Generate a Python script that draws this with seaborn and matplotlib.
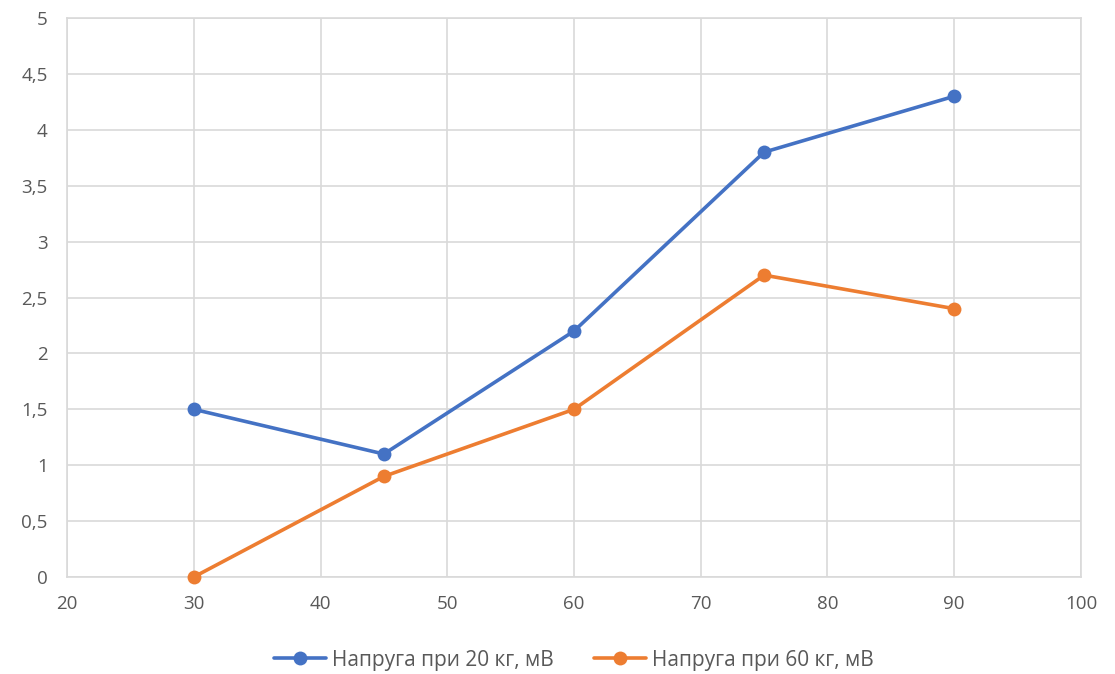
import matplotlib
matplotlib.use("Agg")
import matplotlib.pyplot as plt
import matplotlib.ticker as mticker
import seaborn as sns
import pandas as pd

mass = [30, 45, 60, 75, 90]
u20 = [1.5, 1.1, 2.2, 3.8, 4.3]
u60 = [0, 0.9, 1.5, 2.7, 2.4]
labels = ["Напруга при 20 кг, мВ", "Напруга при 60 кг, мВ"]
colors = ["#4472C4", "#ED7D31"]

df = pd.DataFrame({
    "x": mass * 2,
    "y": u20 + u60,
    "series": [labels[0]] * len(mass) + [labels[1]] * len(mass),
})

sns.set_style("white")
plt.rcParams["font.family"] = ["Open Sans", "DejaVu Sans"]

fig = plt.figure(figsize=(11.15, 6.74), dpi=100)
ax = fig.add_axes([0.0601, 0.1439, 0.9094, 0.8294])

sns.lineplot(data=df, x="x", y="y", hue="series", palette=colors,
             marker="o", markersize=10, markeredgewidth=0, linewidth=2.6,
             ax=ax, legend=True, clip_on=False, zorder=3)

ax.set_xlim(20, 100)
ax.set_ylim(0, 5)
ax.xaxis.set_major_locator(mticker.MultipleLocator(10))
ax.yaxis.set_major_locator(mticker.MultipleLocator(0.5))
ax.yaxis.set_major_formatter(mticker.FuncFormatter(
    lambda v, p: (f"{v:g}").replace(".", ",")))
ax.grid(True, color="#d9d9d9", linewidth=1.2)
for s in ax.spines.values():
    s.set_color("#d9d9d9")
    s.set_linewidth(1.2)
ax.tick_params(axis="both", length=0, labelsize=13.5, labelcolor="#595959")
ax.tick_params(axis="x", pad=13)
ax.tick_params(axis="y", pad=14)
ax.set_xlabel("")
ax.set_ylabel("")

handles, _ = ax.get_legend_handles_labels()
ax.legend(handles=handles, labels=labels, loc="center",
          bbox_to_anchor=(0.5, -0.1485), ncol=2, frameon=False,
          fontsize=15, labelcolor="#595959", handlelength=2.5,
          handletextpad=0.3, columnspacing=1.9)

fig.savefig("out.png", dpi=100, facecolor="white")
